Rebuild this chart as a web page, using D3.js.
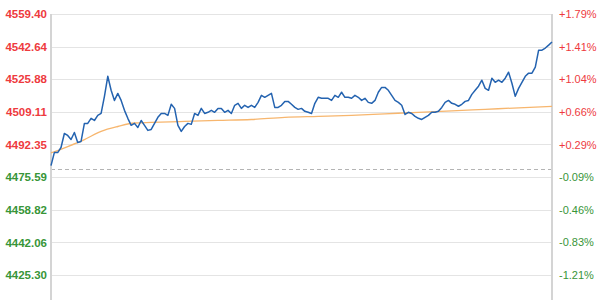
<!DOCTYPE html>
<html>
<head>
<meta charset="utf-8">
<script src="https://cdn.jsdelivr.net/npm/d3@7"></script>
<style>
  body { margin: 0; background: #fff; }
  svg { display: block; }
</style>
</head>
<body>
<svg id="chart" width="600" height="300"></svg>
<script>
// intraday index, sampled evenly over the session
var prices = [
  4481.5, 4488.2, 4488.2, 4490.8, 4498.0, 4497.0, 4494.9, 4498.5, 4493.4, 4493.9,
  4503.2, 4503.2, 4505.8, 4504.7, 4507.3, 4508.3, 4517.1, 4527.4, 4520.2, 4515.0,
  4518.6, 4515.0, 4509.9, 4505.8, 4502.2, 4503.2, 4501.1, 4504.7, 4502.2, 4499.6,
  4500.1, 4503.2, 4506.3, 4508.3, 4508.3, 4507.3, 4513.0, 4510.9, 4502.2, 4499.1,
  4501.6, 4503.2, 4502.7, 4508.3, 4507.3, 4510.9, 4508.3, 4508.9, 4509.9, 4508.9,
  4510.9, 4510.9, 4508.9, 4509.9, 4508.3, 4512.5, 4513.5, 4510.9, 4512.5, 4511.4,
  4512.5, 4511.4, 4514.0, 4517.6, 4516.6, 4517.6, 4518.6, 4511.4, 4511.4, 4512.5,
  4514.5, 4514.5, 4513.0, 4511.4, 4510.4, 4510.9, 4509.4, 4508.9, 4508.3, 4513.5,
  4516.6, 4516.1, 4516.1, 4516.1, 4515.0, 4517.6, 4516.6, 4519.2, 4516.6, 4516.6,
  4516.1, 4517.6, 4516.6, 4515.0, 4516.1, 4514.0, 4513.5, 4515.0, 4519.2, 4521.7,
  4521.7, 4520.2, 4517.6, 4515.0, 4514.0, 4512.5, 4507.8, 4508.9, 4508.3, 4506.8,
  4505.8, 4505.2, 4506.3, 4507.3, 4508.9, 4508.9, 4509.4, 4511.4, 4514.0, 4515.0,
  4513.5, 4513.0, 4512.0, 4513.0, 4514.5, 4515.0, 4518.1, 4520.2, 4522.3, 4525.4,
  4521.2, 4520.2, 4526.4, 4524.3, 4525.4, 4524.3, 4526.4, 4529.5, 4523.8, 4517.1,
  4521.2, 4524.3, 4527.4, 4529.0, 4529.0, 4532.1, 4540.8, 4540.8, 4541.9, 4543.4,
  4545.0
];

// average price line
var avgIndex = [0, 5, 10, 15, 20, 25, 30, 40, 50, 60, 70, 80, 90, 100, 110, 120, 130, 140, 150];
var avgValues = [4488.0, 4491.3, 4494.9, 4499.1, 4501.6, 4503.4, 4503.7, 4504.2, 4504.7, 4505.2,
  4506.3, 4506.8, 4507.3, 4508.1, 4508.9, 4509.6, 4510.4, 4511.2, 4511.9];

var prevClose = 4479.6;

var leftTicks = [4559.40, 4542.64, 4525.88, 4509.11, 4492.35, 4475.59, 4458.82, 4442.06, 4425.30];
var rightTicks = ['+1.79%', '+1.41%', '+1.04%', '+0.66%', '+0.29%', '-0.09%', '-0.46%', '-0.83%', '-1.21%'];

var red = '#ee3a3e',
    green = '#389538';

var svg = d3.select('#chart');

var plot = { left: 51, right: 552, top: 14, bottom: 275 };

var x = d3.scaleLinear()
    .domain([0, prices.length - 1])
    .range([plot.left, plot.right]);

var y = d3.scaleLinear()
    .domain([leftTicks[leftTicks.length - 1], leftTicks[0]])
    .range([plot.bottom, plot.top]);

// grid
svg.append('g')
    .selectAll('line')
    .data(leftTicks)
    .enter()
    .append('line')
    .attr('x1', plot.left)
    .attr('x2', plot.right)
    .attr('y1', function (d) { return Math.round(y(d)) + 0.5; })
    .attr('y2', function (d) { return Math.round(y(d)) + 0.5; })
    .attr('stroke', '#e4e4e4')
    .attr('stroke-width', 1);

// previous close
svg.append('line')
    .attr('x1', plot.left)
    .attr('x2', plot.right)
    .attr('y1', Math.round(y(prevClose)) + 0.5)
    .attr('y2', Math.round(y(prevClose)) + 0.5)
    .attr('stroke', '#b4b4b4')
    .attr('stroke-dasharray', '4,3');

// side borders
[plot.left, plot.right].forEach(function (px) {
    svg.append('line')
        .attr('x1', px).attr('x2', px)
        .attr('y1', plot.top).attr('y2', 300)
        .attr('stroke', '#d4d4d4')
        .attr('stroke-width', 2);
});

// left labels
var yAxisL = d3.axisLeft(y)
    .tickValues(leftTicks)
    .tickFormat(d3.format('.2f'))
    .tickSize(0)
    .tickPadding(4);

var gl = svg.append('g')
    .attr('transform', 'translate(' + plot.left + ',0)')
    .call(yAxisL);
gl.select('.domain').remove();
gl.selectAll('text')
    .attr('font-family', '"Liberation Sans", Arial, sans-serif')
    .attr('font-size', 11.5)
    .attr('font-weight', 'bold')
    .attr('fill', function (d) { return d > prevClose ? red : green; });

// right labels
var yAxisR = d3.axisRight(y)
    .tickValues(leftTicks)
    .tickFormat(function (d, i) { return rightTicks[i]; })
    .tickSize(0)
    .tickPadding(7);

var gr = svg.append('g')
    .attr('transform', 'translate(' + plot.right + ',0)')
    .call(yAxisR);
gr.select('.domain').remove();
gr.selectAll('text')
    .attr('font-family', '"Liberation Sans", Arial, sans-serif')
    .attr('font-size', 11)
    .attr('fill', function (d) { return d > prevClose ? red : green; });

// avg line
var avgLine = d3.line()
    .x(function (d, i) { return x(avgIndex[i]); })
    .y(function (d) { return y(d); })
    .curve(d3.curveMonotoneX);

svg.append('path')
    .datum(avgValues)
    .attr('d', avgLine)
    .attr('fill', 'none')
    .attr('stroke', '#f7b66e')
    .attr('stroke-width', 1.3);

// price line
var priceLine = d3.line()
    .x(function (d, i) { return x(i); })
    .y(function (d) { return y(d); });

svg.append('path')
    .datum(prices)
    .attr('d', priceLine)
    .attr('fill', 'none')
    .attr('stroke', '#2463b0')
    .attr('stroke-width', 1.5)
    .attr('stroke-linejoin', 'round');
</script>
</body>
</html>
